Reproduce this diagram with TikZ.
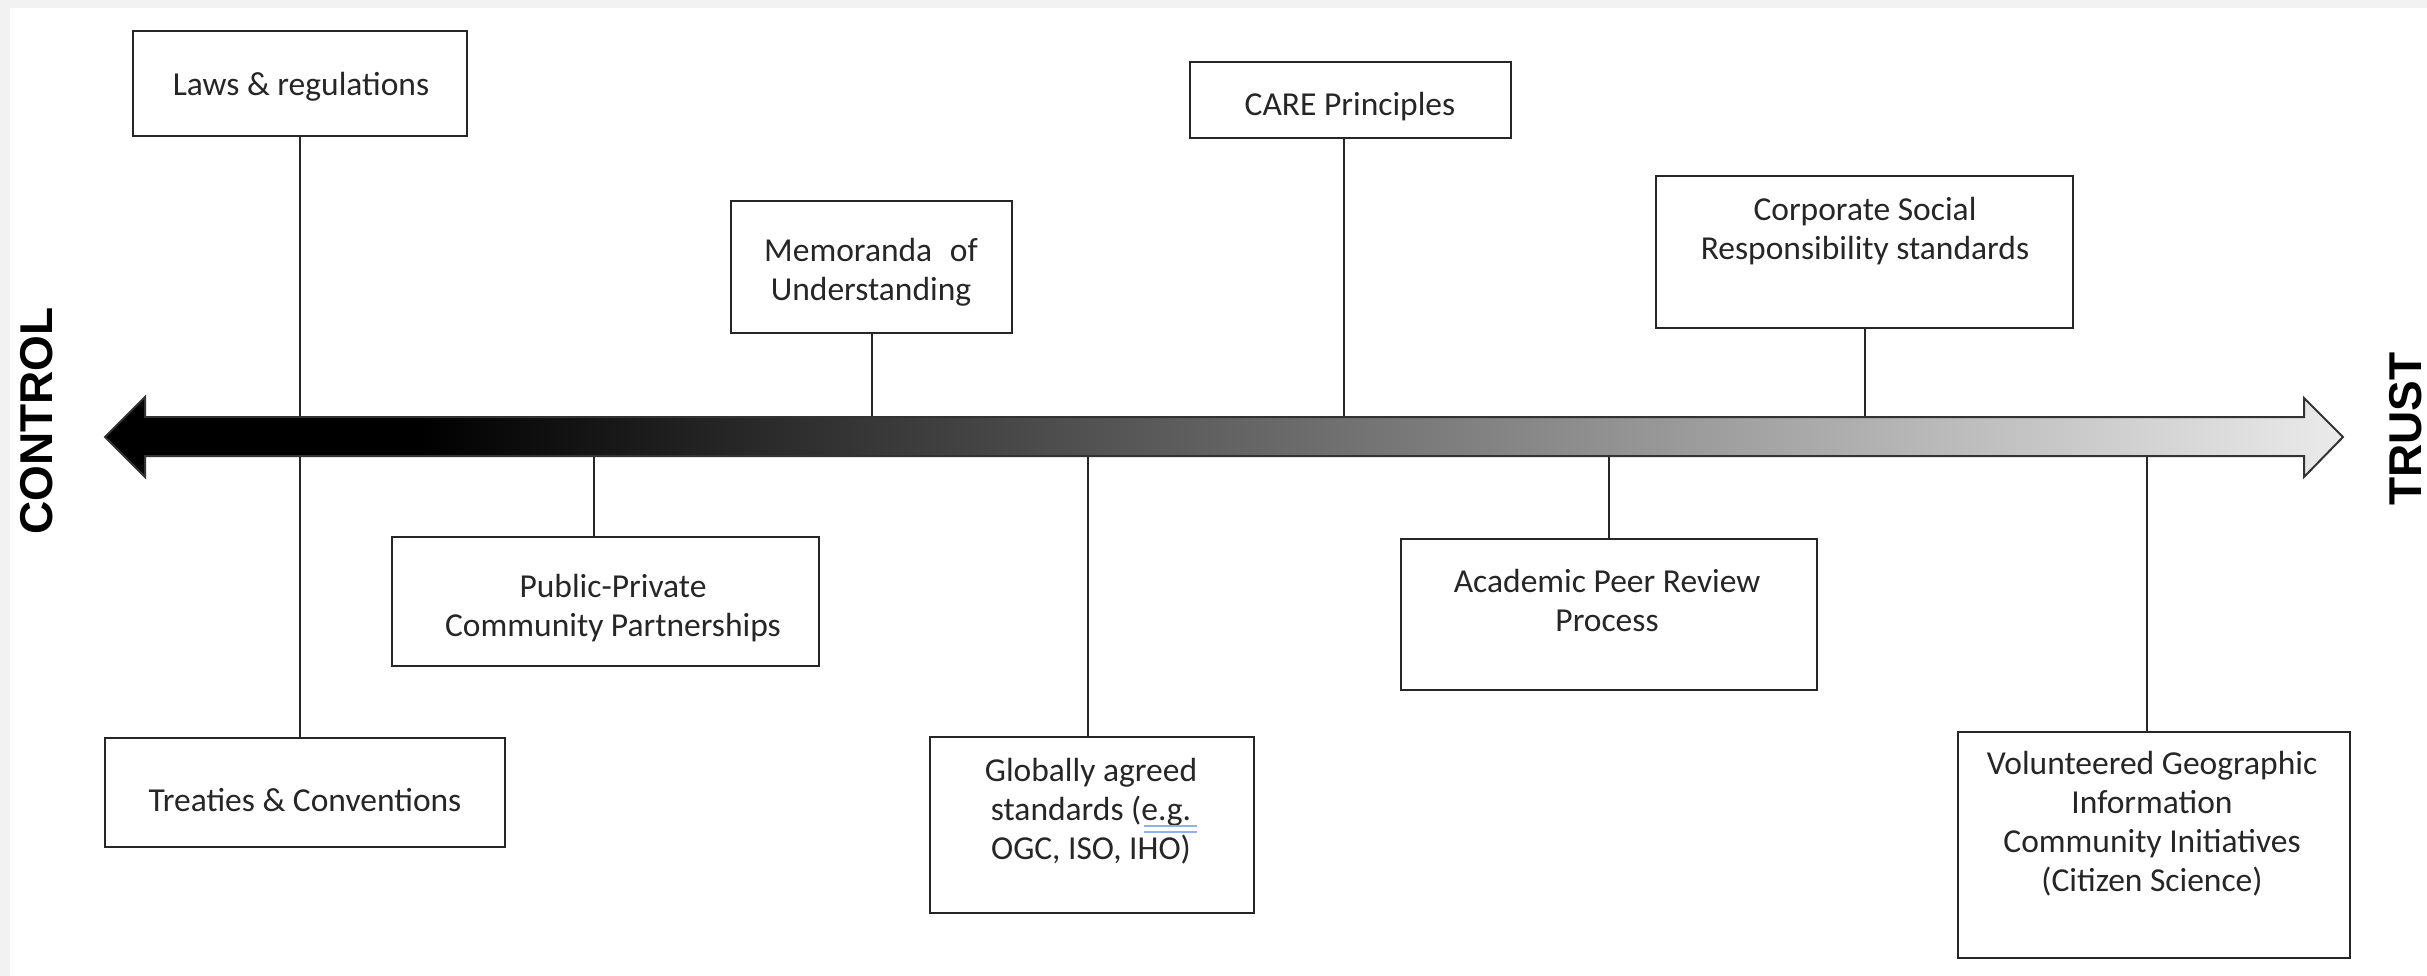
\documentclass[tikz,border=0pt]{standalone}
\usepackage{fontspec}
\setmainfont{Carlito}
\newfontfamily\headfont{Liberation Sans}
\definecolor{proofblue}{HTML}{8FB2EA}
\pgfdeclarehorizontalshading{ctshade}{100bp}{color(0bp)=(black); color(25bp)=(black); color(32bp)=(black); color(75bp)=(black!8); color(100bp)=(black!8)}
\begin{document}
\begin{tikzpicture}[x=1pt,y=-1pt,
  boxst/.style={draw=black!85, line width=2.6pt, fill=white, inner sep=0pt, outer sep=0pt, anchor=north west},
  txt/.style={align=center, inner sep=0pt, text=black!85, font=\fontsize{33.5}{39}\selectfont},
  link/.style={draw=black!85, line width=2pt},
  proof/.style={draw=proofblue, line width=2.4pt},
  sidelabel/.style={font=\headfont\bfseries\fontsize{46}{50}\selectfont, rotate=90, inner sep=0pt, text=black}]
\useasboundingbox (0,0) rectangle (2427,976);
\fill[black!5] (0,0) rectangle (2427,976);
\fill[white] (10,8) rectangle (2427,976);

% boxes
\node[boxst, minimum width=334pt, minimum height=105pt] (laws) at (133,31) {};
\node[boxst, minimum width=400pt, minimum height=109pt] (treat) at (105,738) {};
\node[boxst, minimum width=281pt, minimum height=132pt] (memo) at (731,201) {};
\node[boxst, minimum width=427pt, minimum height=129pt] (pub) at (392,537) {};
\node[boxst, minimum width=321pt, minimum height=76pt] (care) at (1190,62) {};
\node[boxst, minimum width=324pt, minimum height=176pt] (glob) at (930,737) {};
\node[boxst, minimum width=417pt, minimum height=152pt] (corp) at (1656,176) {};
\node[boxst, minimum width=416pt, minimum height=151pt] (acad) at (1401,539) {};
\node[boxst, minimum width=392pt, minimum height=226pt] (vgi) at (1958,732) {};

% texts
\node[txt] (tlaws) at (301,87) {Laws \& regulations};
\node[txt] (ttreat) at (305,800) {Treaties \& Conventions};
\node[txt] (tmemo) at (871,272) {Memoranda\hspace{0.3em} of\\Understanding};
\node[txt] (tpub) at (613,608) {Public-Private\\Community Partnerships};
\node[txt] (tcare) at (1350,107) {CARE Principles};
\node[txt] (tglob) at (1091,811) {Globally agreed\\standards (e.g.\\OGC, ISO, IHO)};
\node[txt] (tcorp) at (1865,231) {Corporate Social\\Responsibility standards};
\node[txt] (tacad) at (1607,600) {Academic Peer Review\\Process};
\node[txt] (tvgi) at (2152,824) {Volunteered Geographic\\Information\\Community Initiatives\\(Citizen Science)};

% proofing mark under "e.g."
\draw[proof] ([shift={(-53,15)}]tglob.east) -- ([shift={(0,15)}]tglob.east);
\draw[proof] ([shift={(-53,21)}]tglob.east) -- ([shift={(0,21)}]tglob.east);

% arrow reference coordinates
\coordinate (atop) at (0,417);
\coordinate (abot) at (0,456);
\coordinate (pubC) at (594,456);
\coordinate (careC) at (1344,417);
\coordinate (globC) at (1088,456);
\coordinate (vgiC) at (2147,456);

% connectors
\draw[link] (laws.south) -- (laws.south |- treat.north);
\draw[link] (memo.south) -- (memo.south |- atop);
\draw[link] (pubC) -- (pubC |- pub.north);
\draw[link] (careC |- care.south) -- (careC);
\draw[link] (globC) -- (globC |- glob.north);
\draw[link] (corp.south) -- (corp.south |- atop);
\draw[link] (acad.north) -- (acad.north |- abot);
\draw[link] (vgiC) -- (vgiC |- vgi.north);

% gradient double arrow
\shade[shading=ctshade, draw=black!80, line width=2pt, line join=miter]
  (105,437) -- (145,397) -- (145,417) -- (2304,417) -- (2304,398) -- (2343,437)
  -- (2304,477) -- (2304,456) -- (145,456) -- (145,477) -- cycle;

% side labels
\node[sidelabel] (ctrl) at (37,421) {CONTROL};
\node[sidelabel] (trust) at (2406,429) {TRUST};
\end{tikzpicture}
\end{document}
